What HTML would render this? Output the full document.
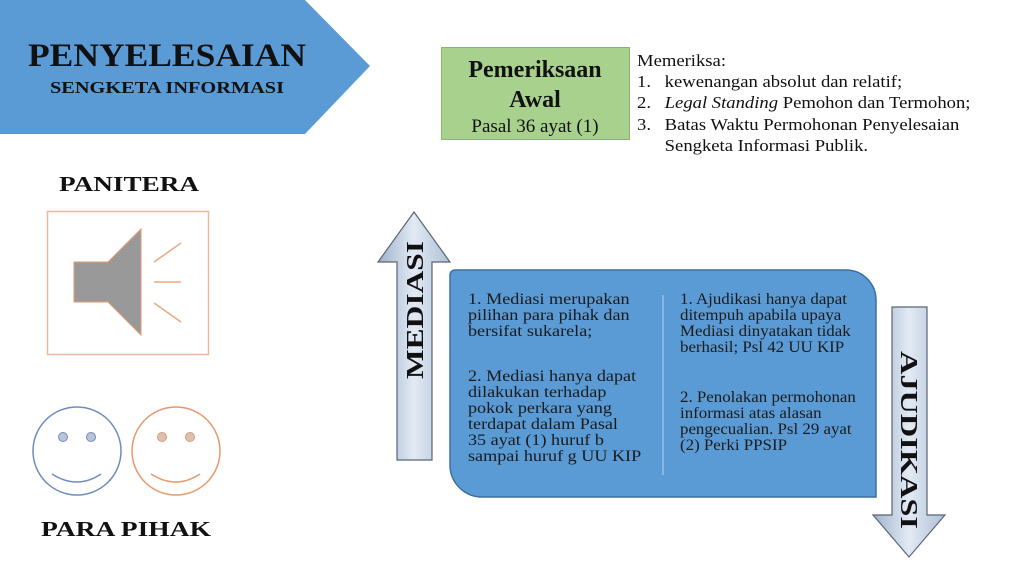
<!DOCTYPE html>
<html><head><meta charset="utf-8"><style>
html,body{margin:0;padding:0;background:#fff;width:1024px;height:576px;overflow:hidden}
svg{display:block}
</style></head><body>
<svg width="1024" height="576" viewBox="0 0 1024 576" xmlns="http://www.w3.org/2000/svg" font-family="'Liberation Serif', serif">
<defs>
<linearGradient id="ag" x1="0" x2="1" y1="0" y2="0">
<stop offset="0" stop-color="#9fb2cc"/><stop offset="0.5" stop-color="#e2eaf4"/><stop offset="1" stop-color="#aebfd6"/>
</linearGradient>
</defs>
<polygon points="0,0 305,0 370,66 305,134 0,134" fill="#5b9bd5"/>
<text x="167" y="66" text-anchor="middle" font-size="33" font-weight="bold" fill="#111" textLength="278" lengthAdjust="spacingAndGlyphs">PENYELESAIAN</text>
<text x="167" y="93" text-anchor="middle" font-size="17" font-weight="bold" fill="#111" textLength="234" lengthAdjust="spacingAndGlyphs">SENGKETA INFORMASI</text>

<text x="129" y="191" text-anchor="middle" font-size="21" font-weight="bold" fill="#111" textLength="140" lengthAdjust="spacingAndGlyphs">PANITERA</text>
<rect x="47.5" y="211.5" width="161" height="143" fill="#fff" stroke="#e8b99a" stroke-width="1.5"/>
<polygon points="74,262 108,262 141,229 141,335 108,302 74,302" fill="#999" stroke="#e39a6e" stroke-width="1"/>
<g stroke="#e8a883" stroke-width="1.5"><line x1="154" y1="262" x2="181" y2="243"/><line x1="154" y1="282" x2="181" y2="282"/><line x1="154" y1="303" x2="181" y2="322"/></g>

<circle cx="77" cy="451" r="44" fill="#fff" stroke="#6f8cc0" stroke-width="1.5"/>
<circle cx="63" cy="437" r="4.5" fill="#b9c4d6" stroke="#6f8cc0"/><circle cx="91" cy="437" r="4.5" fill="#b9c4d6" stroke="#6f8cc0"/>
<path d="M52,474 Q77,490 101,474" fill="none" stroke="#6f8cc0" stroke-width="1.5"/>
<circle cx="176" cy="451" r="44" fill="#fff" stroke="#e39a6e" stroke-width="1.5"/>
<circle cx="162" cy="437" r="4.5" fill="#d6c3b8" stroke="#e39a6e"/><circle cx="190" cy="437" r="4.5" fill="#d6c3b8" stroke="#e39a6e"/>
<path d="M151,474 Q176,490 200,474" fill="none" stroke="#e39a6e" stroke-width="1.5"/>
<text x="126" y="536" text-anchor="middle" font-size="21" font-weight="bold" fill="#111" textLength="170" lengthAdjust="spacingAndGlyphs">PARA PIHAK</text>

<rect x="441.5" y="47.5" width="188" height="92" fill="#a9d18e" stroke="#86b86a"/>
<text x="535" y="77" text-anchor="middle" font-size="24" font-weight="bold" fill="#111">Pemeriksaan</text>
<text x="535" y="107" text-anchor="middle" font-size="24" font-weight="bold" fill="#111">Awal</text>
<text x="535" y="132" text-anchor="middle" font-size="19" fill="#111">Pasal 36 ayat (1)</text>

<g font-size="16.5" fill="#111" transform="translate(637,0) scale(1.13,1)">
<text x="0" y="66">Memeriksa:</text>
<text x="0" y="87">1.</text><text x="24.5" y="87">kewenangan absolut dan relatif;</text>
<text x="0" y="108">2.</text><text x="24.5" y="108"><tspan font-style="italic">Legal Standing</tspan> Pemohon dan Termohon;</text>
<text x="0" y="130">3.</text><text x="24.5" y="130">Batas Waktu Permohonan Penyelesaian</text>
<text x="24.5" y="151">Sengketa Informasi Publik.</text>
</g>

<polygon points="414,212 450,262 432,262 432,460 397,460 397,262 378,262" fill="url(#ag)" stroke="#5a6575" stroke-width="1.2"/>
<text transform="translate(423,310) rotate(-90)" text-anchor="middle" font-size="24" font-weight="bold" fill="#111" textLength="138" lengthAdjust="spacingAndGlyphs">MEDIASI</text>

<path d="M455,270 H846 A30,30 0 0 1 876,300 V497 H482 A32,32 0 0 1 450,465 V275 A5,5 0 0 1 455,270 Z" fill="#5b9bd5" stroke="#3f6f9e" stroke-width="1.5"/>
<line x1="663" y1="295" x2="663" y2="475" stroke="#b9d3ec" stroke-width="1"/>
<g font-size="15.5" fill="#1a1a1a" transform="translate(468,0) scale(1.17,1)">
<text x="0" y="304">1. Mediasi merupakan</text>
<text x="0" y="320">pilihan para pihak dan</text>
<text x="0" y="336">bersifat sukarela;</text>
<text x="0" y="381">2. Mediasi hanya dapat</text>
<text x="0" y="397">dilakukan terhadap</text>
<text x="0" y="413">pokok perkara yang</text>
<text x="0" y="429">terdapat dalam Pasal</text>
<text x="0" y="445">35 ayat (1) huruf b</text>
<text x="0" y="461">sampai huruf g UU KIP</text>
</g>
<g font-size="15.5" fill="#1a1a1a" transform="translate(680,0) scale(1.09,1)">
<text x="0" y="304">1. Ajudikasi hanya dapat</text>
<text x="0" y="320">ditempuh apabila upaya</text>
<text x="0" y="336">Mediasi dinyatakan tidak</text>
<text x="0" y="352">berhasil; Psl 42 UU KIP</text>
<text x="0" y="402">2. Penolakan permohonan</text>
<text x="0" y="418">informasi atas alasan</text>
<text x="0" y="434">pengecualian. Psl 29 ayat</text>
<text x="0" y="450">(2) Perki PPSIP</text>
</g>

<polygon points="892,307 927,307 927,515 945,515 909,557 873,515 892,515" fill="url(#ag)" stroke="#5a6575" stroke-width="1.2"/>
<text transform="translate(901,440) rotate(90)" text-anchor="middle" font-size="24" font-weight="bold" fill="#111" textLength="178" lengthAdjust="spacingAndGlyphs">AJUDIKASI</text>
</svg>
</body></html>
